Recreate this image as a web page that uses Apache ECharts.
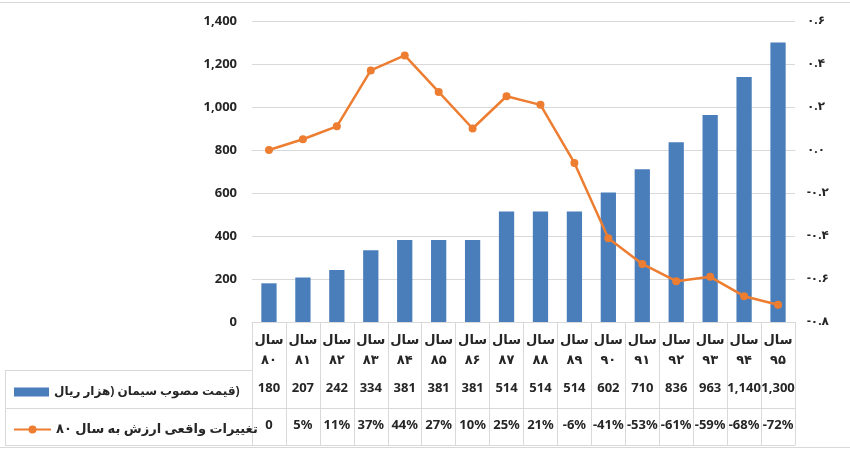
<!DOCTYPE html>
<html>
<head>
<meta charset="utf-8">
<script src="https://cdn.jsdelivr.net/npm/echarts@6/dist/echarts.min.js"></script>
<style>
html,body{margin:0;padding:0;background:#fff}
#chart{width:850px;height:450px}
</style>
</head>
<body>
<div id="chart"></div>
<script>
var chartDom = document.getElementById('chart');
var myChart = echarts.init(chartDom);

// داده ها
var years = ['۸۰','۸۱','۸۲','۸۳','۸۴','۸۵','۸۶','۸۷','۸۸','۸۹','۹۰','۹۱','۹۲','۹۳','۹۴','۹۵'];
var price = [180,207,242,334,381,381,381,514,514,514,602,710,836,963,1140,1300];
var change = [0,0.05,0.11,0.37,0.44,0.27,0.10,0.25,0.21,-0.06,-0.41,-0.53,-0.61,-0.59,-0.68,-0.72];
// the closing paren is isolated so it is drawn the way the source shows it
var priceName = 'قیمت مصوب سیمان (هزار ریال\u2066)\u2069';
var changeName = 'تغییرات واقعی ارزش به سال ۸۰';

var categories = years.map(function (y) { return 'سال\n' + y; });

var font = '"Noto Sans","DejaVu Sans",sans-serif';
var txt = '#262626';
var gridCol = '#d9d9d9';

function faDigits(s) {
    return String(s).replace(/\d/g, function (d) { return '۰۱۲۳۴۵۶۷۸۹'.charAt(d); });
}
function pct(v) {
    if (v === 0) return '0';
    return Math.round(v * 100) + '%';
}

var option = {
    animation: false,
    grid: { left: 252, right: 55, top: 21, bottom: 128 },
    legend: [{
        data: [priceName],
        left: 9, top: 381,
        icon: 'rect',
        itemWidth: 35, itemHeight: 9,
        textStyle: { fontSize: 12, color: txt, fontFamily: font, fontWeight: 'bold' }
    }, {
        data: [changeName],
        left: 8, top: 418,
        itemWidth: 37, itemHeight: 10,
        textStyle: { fontSize: 13, color: txt, fontFamily: font, fontWeight: 'bold' }
    }],
    xAxis: [{
        type: 'category',
        data: categories,
        position: 'bottom',
        axisLine: { lineStyle: { color: gridCol } },
        axisTick: { show: true, interval: 0, length: 123, lineStyle: { color: gridCol } },
        axisLabel: { interval: 0, margin: 8, lineHeight: 20, fontSize: 13, color: txt, fontFamily: font, fontWeight: 'bold' }
    }, {
        type: 'category',
        data: categories,
        position: 'bottom',
        offset: 48,
        axisLine: { lineStyle: { color: gridCol } },
        axisTick: { show: false },
        axisLabel: {
            interval: 0, margin: 12, fontSize: 13, color: txt, fontFamily: font, fontWeight: 'bold',
            formatter: function (v, i) { return price[i].toLocaleString('en-US'); }
        }
    }, {
        type: 'category',
        data: categories,
        position: 'bottom',
        offset: 86,
        axisLine: { lineStyle: { color: gridCol } },
        axisTick: { show: false },
        axisLabel: {
            interval: 0, margin: 11, fontSize: 13, color: txt, fontFamily: font, fontWeight: 'bold',
            formatter: function (v, i) { return pct(change[i]); }
        }
    }, {
        type: 'category',
        data: categories,
        position: 'bottom',
        offset: 123,
        axisLine: { lineStyle: { color: gridCol } },
        axisTick: { show: false },
        axisLabel: { show: false }
    }],
    yAxis: [{
        type: 'value',
        min: 0, max: 1400, interval: 200,
        axisLine: { show: false },
        axisTick: { show: false },
        splitLine: { lineStyle: { color: gridCol } },
        axisLabel: {
            margin: 15, fontSize: 13, color: txt, fontFamily: font, fontWeight: 'bold',
            formatter: function (v) { return v.toLocaleString('en-US'); }
        }
    }, {
        type: 'value',
        min: -0.8, max: 0.6, interval: 0.2,
        axisLine: { show: false },
        axisTick: { show: false },
        splitLine: { show: false },
        axisLabel: {
            margin: 12, fontSize: 12, color: txt, fontFamily: font, fontWeight: 'bold',
            formatter: function (v) { return faDigits(v.toFixed(1)); }
        }
    }],
    series: [{
        name: priceName,
        type: 'bar',
        data: price,
        xAxisIndex: 0,
        yAxisIndex: 0,
        barWidth: '45%',
        itemStyle: { color: '#4a7ebb' }
    }, {
        name: changeName,
        type: 'line',
        data: change,
        xAxisIndex: 0,
        yAxisIndex: 1,
        symbol: 'circle',
        symbolSize: 8,
        lineStyle: { width: 2.5, color: '#ed7d31' },
        itemStyle: { color: '#ed7d31' }
    }],
    graphic: [
        { type: 'line', shape: { x1: 0, y1: 2.5, x2: 850, y2: 2.5 }, style: { stroke: gridCol, lineWidth: 1 } },
        { type: 'line', shape: { x1: 0, y1: 447.5, x2: 850, y2: 447.5 }, style: { stroke: gridCol, lineWidth: 1 } },
        { type: 'line', shape: { x1: 5, y1: 370.5, x2: 252, y2: 370.5 }, style: { stroke: gridCol, lineWidth: 1 } },
        { type: 'line', shape: { x1: 5, y1: 408.5, x2: 252, y2: 408.5 }, style: { stroke: gridCol, lineWidth: 1 } },
        { type: 'line', shape: { x1: 5, y1: 445.5, x2: 252, y2: 445.5 }, style: { stroke: gridCol, lineWidth: 1 } },
        { type: 'line', shape: { x1: 5.5, y1: 370, x2: 5.5, y2: 446 }, style: { stroke: gridCol, lineWidth: 1 } }
    ]
};

option && myChart.setOption(option);
</script>
</body>
</html>
